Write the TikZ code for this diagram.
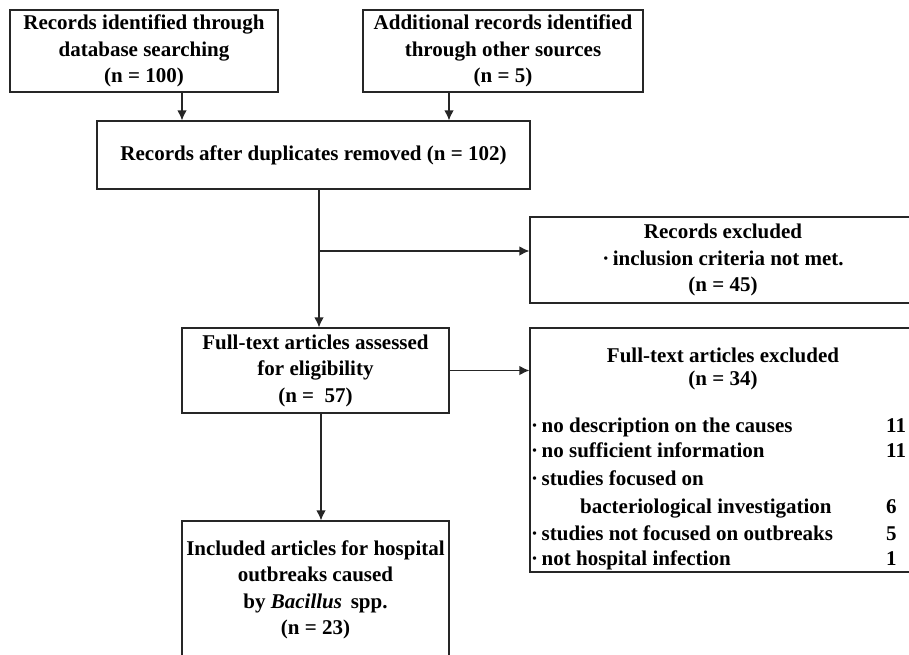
\documentclass[tikz,border=0pt]{standalone}
\usepackage{fontspec}
\setmainfont{Liberation Serif}
\usetikzlibrary{arrows.meta}
\begin{document}
\begin{tikzpicture}[x=1pt,y=-1pt,
  bx/.style={draw=black!85, line width=1.2pt, inner sep=0pt, align=center,
    font=\bfseries\fontsize{21}{26.5}\selectfont},
  txt/.style={inner sep=0pt, text height=14pt, text depth=4pt,
    font=\bfseries\fontsize{21}{26.5}\selectfont},
  hdr/.style={inner sep=0pt, align=center, font=\bfseries\fontsize{21}{23}\selectfont},
  arr/.style={draw=black!85, line width=1.3pt, -{Latex[length=10pt,width=9.5pt]}}]
\clip (0,0) rectangle (909,654);
\fill[white] (0,0) rectangle (909,654);
% boxes
\node[bx, minimum width=268pt, minimum height=82pt] (A) at (144,51)
  {Records identified through\\database searching\\(n = 100)};
\node[bx, minimum width=280pt, minimum height=82pt] (B) at (503,51)
  {Additional records identified\\through other sources\\(n = 5)};
\node[bx, minimum width=433pt, minimum height=68pt] (C) at (313.5,155)
  {Records after duplicates removed (n = 102)};
\node[bx, minimum width=386pt, minimum height=86pt] (E) at (723,260)
  {Records excluded\\{\textperiodcentered}\,inclusion criteria not met.\\(n = 45)};
\node[bx, minimum width=267pt, minimum height=85pt] (D) at (315.5,370.5)
  {Full-text articles assessed\\for eligibility\\(n = \ 57)};
\node[bx, minimum width=386pt, minimum height=244pt] (F) at (723,450) {};
\node[bx, minimum width=267pt, minimum height=138pt] (G) at (315.5,590)
  {Included articles for hospital\\outbreaks caused\\by \textit{Bacillus}\, spp.\\(n = 23)};
% texts in F
\node[hdr] (Fh) at (723,368.5) {Full-text articles excluded\\(n = 34)};
\node[txt, anchor=west] (f1) at (531,427) {\textperiodcentered\,no description on the causes};
\node[txt, anchor=west] (f2) at (531,452) {\textperiodcentered\,no sufficient information};
\node[txt, anchor=west] (f3) at (531,480) {\textperiodcentered\,studies focused on};
\node[txt, anchor=west] (f4) at (580,508) {bacteriological investigation};
\node[txt, anchor=west] (f5) at (531,535) {\textperiodcentered\,studies not focused on outbreaks};
\node[txt, anchor=west] (f6) at (531,560) {\textperiodcentered\,not hospital infection};
\node[txt, anchor=west] (n1) at (886,427) {11};
\node[txt, anchor=west] (n2) at (886,452) {11};
\node[txt, anchor=west] (n4) at (886,508) {6};
\node[txt, anchor=west] (n5) at (886,535) {5};
\node[txt, anchor=west] (n6) at (886,560) {1};
% connectors
\coordinate (xa) at (182,0);
\coordinate (xb) at (449,0);
\coordinate (xc) at (319,0);
\coordinate (xd) at (321,0);
\coordinate (br) at (319,251);
\draw[arr] (xa |- A.south) -- (xa |- C.north);
\draw[arr] (xb |- B.south) -- (xb |- C.north);
\draw[arr] (xc |- C.south) -- (xc |- D.north);
\draw[arr] (br) -- (br -| E.west);
\draw[arr] (D.east) -- (D.east -| F.west);
\draw[arr] (xd |- D.south) -- (xd |- G.north);
\end{tikzpicture}
\end{document}
